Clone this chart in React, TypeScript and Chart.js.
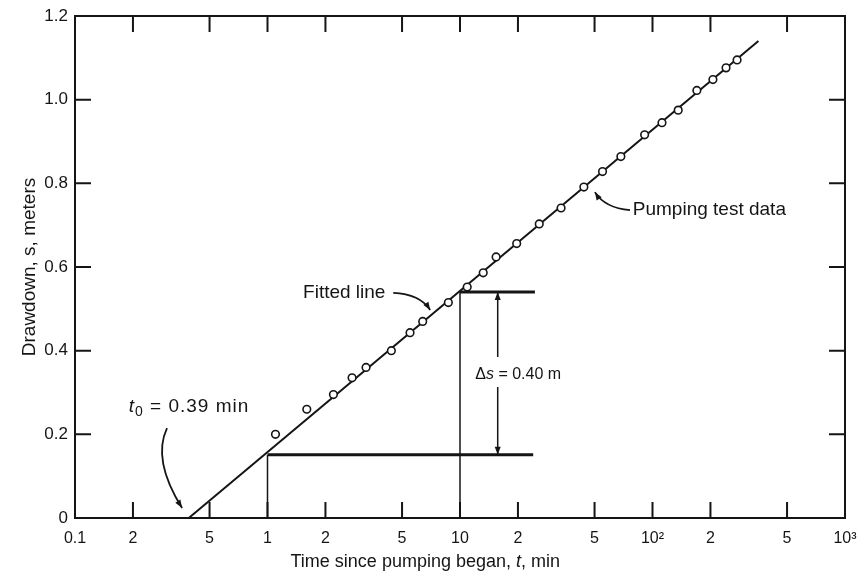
import React, { useEffect, useRef } from "react";
import { Chart, registerables } from "chart.js";

Chart.register(...registerables);

const FONT = "'Liberation Sans', 'DejaVu Sans', Arial, sans-serif";
const INK = "#151515";

// Axis ticks
const xTickValues = [0.1, 0.2, 0.5, 1, 2, 5, 10, 20, 50, 100, 200, 500, 1000];
const xTickLabels = ["0.1", "2", "5", "1", "2", "5", "10", "2", "5", "10²", "2", "5", "10³"];
const yTickValues = [0, 0.2, 0.4, 0.6, 0.8, 1.0, 1.2];
const yTickLabels = ["0", "0.2", "0.4", "0.6", "0.8", "1.0", "1.2"];
const xMarkValues = [0.2, 0.5, 1, 2, 5, 10, 20, 50, 100, 200, 500];
const yMarkValues = [0.2, 0.4, 0.6, 0.8, 1.0];

// Pumping test data (time, min ; drawdown, m)
const testTimes = [1.1, 1.6, 2.2, 2.75, 3.25, 4.4, 5.5, 6.4, 8.7, 10.9, 13.2, 15.4, 19.7, 25.8, 33.5, 44, 55, 68.5, 91, 112, 136, 170, 206, 241, 275];
const testDrawdowns = [0.2, 0.26, 0.295, 0.335, 0.36, 0.4, 0.443, 0.47, 0.515, 0.552, 0.586, 0.624, 0.656, 0.703, 0.741, 0.791, 0.828, 0.864, 0.916, 0.945, 0.975, 1.022, 1.048, 1.076, 1.095];

// Fitted straight line
const fitTimes = [0.39, 355];
const fitDrawdowns = [0, 1.14];

// Construction lines
const guide1VTimes = [1, 1];
const guide1VDrawdowns = [0, 0.151];
const guide1HTimes = [1, 24];
const guide1HDrawdowns = [0.151, 0.151];
const guide10VTimes = [10, 10];
const guide10VDrawdowns = [0, 0.54];
const guide10HTimes = [10, 24.5];
const guide10HDrawdowns = [0.54, 0.54];

// Annotation anchors (time, drawdown)
const deltaArrowTime = 15.7;
const deltaArrowUpper = [0.54, 0.385];
const deltaArrowLower = [0.313, 0.151];
const deltaLabelAt = [12.0, 0.342];
const t0LabelAt = [0.19, 0.265];
const t0Arrow = [[0.3006, 0.215], [0.251, 0.139], [0.36, 0.024]];
const fittedLabelAt = [1.53, 0.538];
const fittedArrow = [[4.5, 0.538], [6.2, 0.535], [7.0, 0.497]];
const pumpingLabelAt = [79, 0.736];
const pumpingArrow = [[76.4, 0.736], [56.6, 0.741], [50.2, 0.779]];
const xTitleCenterTime = 6.6;

const pts = (ts: number[], ss: number[]) => ts.map((t, i) => ({ x: t, y: ss[i] }));

function arrowHead(ctx: CanvasRenderingContext2D, tx: number, ty: number, ang: number, len = 8, half = 3) {
  ctx.save();
  ctx.translate(tx, ty);
  ctx.rotate(ang);
  ctx.beginPath();
  ctx.moveTo(0, 0);
  ctx.lineTo(-len, -half);
  ctx.lineTo(-len, half);
  ctx.closePath();
  ctx.fill();
  ctx.restore();
}

const inkPlugin = {
  id: "ink",
  afterDatasetsDraw(chart: any) {
    const { ctx, chartArea: a, scales } = chart;
    const xs = scales.x;
    const ys = scales.y;
    const P = (p: number[]) => [xs.getPixelForValue(p[0]), ys.getPixelForValue(p[1])];
    ctx.save();
    ctx.strokeStyle = INK;
    ctx.fillStyle = INK;
    // frame
    ctx.lineWidth = 2;
    ctx.strokeRect(a.left, a.top, a.right - a.left, a.bottom - a.top);
    // inward tick marks
    const TL = 16;
    ctx.lineWidth = 2;
    ctx.beginPath();
    for (const v of xMarkValues) {
      const px = xs.getPixelForValue(v);
      ctx.moveTo(px, a.top);
      ctx.lineTo(px, a.top + TL);
      ctx.moveTo(px, a.bottom);
      ctx.lineTo(px, a.bottom - TL);
    }
    for (const v of yMarkValues) {
      const py = ys.getPixelForValue(v);
      ctx.moveTo(a.left, py);
      ctx.lineTo(a.left + TL, py);
      ctx.moveTo(a.right, py);
      ctx.lineTo(a.right - TL, py);
    }
    ctx.stroke();

    // curved arrows
    const curve = (c: number[][]) => {
      const [p0, p1, p2] = c.map(P);
      ctx.lineWidth = 1.8;
      ctx.beginPath();
      ctx.moveTo(p0[0], p0[1]);
      ctx.quadraticCurveTo(p1[0], p1[1], p2[0], p2[1]);
      ctx.stroke();
      arrowHead(ctx, p2[0], p2[1], Math.atan2(p2[1] - p1[1], p2[0] - p1[0]));
    };
    curve(t0Arrow);
    curve(fittedArrow);
    curve(pumpingArrow);

    // delta s double arrow
    const dx = xs.getPixelForValue(deltaArrowTime);
    const u0 = ys.getPixelForValue(deltaArrowUpper[0]);
    const u1 = ys.getPixelForValue(deltaArrowUpper[1]);
    const l0 = ys.getPixelForValue(deltaArrowLower[0]);
    const l1 = ys.getPixelForValue(deltaArrowLower[1]);
    ctx.lineWidth = 1.5;
    ctx.beginPath();
    ctx.moveTo(dx, u0);
    ctx.lineTo(dx, u1);
    ctx.moveTo(dx, l0);
    ctx.lineTo(dx, l1);
    ctx.stroke();
    arrowHead(ctx, dx, u0, -Math.PI / 2);
    arrowHead(ctx, dx, l1, Math.PI / 2);

    // texts
    ctx.textBaseline = "middle";
    ctx.textAlign = "left";
    const runs = (x0: number, y: number, parts: [string, string, number][], spacing = 0) => {
      let x = x0;
      (ctx as any).letterSpacing = `${spacing}px`;
      for (const [txt, font, dy] of parts) {
        ctx.font = font;
        ctx.fillText(txt, x, y + dy);
        x += ctx.measureText(txt).width;
      }
      (ctx as any).letterSpacing = "0px";
    };
    const width = (parts: [string, string, number][]) =>
      parts.reduce((w, [txt, font]) => {
        ctx.font = font;
        return w + ctx.measureText(txt).width;
      }, 0);
    const seq = (at: number[], parts: [string, string, number][], spacing = 0) => {
      const [x, y] = P(at);
      runs(x, y, parts, spacing);
    };
    seq(fittedLabelAt, [["Fitted line", `19px ${FONT}`, 0]]);
    seq(pumpingLabelAt, [["Pumping test data", `19px ${FONT}`, 0]]);
    seq(deltaLabelAt, [["Δ", `16px ${FONT}`, 0], ["s", `italic 16px ${FONT}`, 0], [" = 0.40 m", `16px ${FONT}`, 0]]);
    seq(
      t0LabelAt,
      [["t", `italic 19px ${FONT}`, 0], ["0", `14px ${FONT}`, 5], [" = 0.39 min", `19px ${FONT}`, 0]],
      1
    );
    // x-axis title
    const xt: [string, string, number][] = [
      ["Time since pumping began, ", `18px ${FONT}`, 0],
      ["t", `italic 18px ${FONT}`, 0],
      [", min", `18px ${FONT}`, 0],
    ];
    const tw = width(xt);
    runs(xs.getPixelForValue(xTitleCenterTime) - tw / 2, a.bottom + 44, xt);
    ctx.restore();
  },
};

export default function App() {
  const ref = useRef<HTMLCanvasElement>(null);
  useEffect(() => {
    const canvas = ref.current;
    if (!canvas) return;
    const line = (ts: number[], ss: number[], w: number) => ({
      data: pts(ts, ss),
      showLine: true,
      borderColor: INK,
      borderWidth: w,
      pointRadius: 0,
      order: 2,
    });
    const chart = new Chart(canvas, {
      type: "scatter",
      data: {
        datasets: [
          {
            label: "Pumping test data",
            data: pts(testTimes, testDrawdowns),
            showLine: false,
            pointRadius: 3.8,
            pointBorderWidth: 1.6,
            pointBackgroundColor: "#ffffff",
            pointBorderColor: INK,
            order: 0,
          },
          { label: "Fitted line", ...line(fitTimes, fitDrawdowns, 2), order: 1 },
          { label: "g1v", ...line(guide1VTimes, guide1VDrawdowns, 1.5) },
          { label: "g1h", ...line(guide1HTimes, guide1HDrawdowns, 3) },
          { label: "g10v", ...line(guide10VTimes, guide10VDrawdowns, 1.5) },
          { label: "g10h", ...line(guide10HTimes, guide10HDrawdowns, 3) },
        ] as any,
      },
      options: {
        responsive: false,
        animation: false,
        layout: { padding: { left: 18, top: 16, right: 20, bottom: 9 } },
        plugins: { legend: { display: false }, tooltip: { enabled: false } },
        scales: {
          x: {
            type: "logarithmic",
            min: 0.1,
            max: 1000,
            afterBuildTicks: (s: any) => {
              s.ticks = xTickValues.map((v) => ({ value: v }));
            },
            afterFit: (s: any) => {
              s.height = 54;
            },
            grid: { display: false, drawTicks: true, tickLength: 9 },
            border: { display: false },
            ticks: {
              autoSkip: false,
              maxRotation: 0,
              padding: 2,
              color: INK,
              font: { family: FONT, size: 16 },
              callback: (_v: any, i: number) => xTickLabels[i],
            },
            title: { display: false },
          },
          y: {
            type: "linear",
            min: 0,
            max: 1.2,
            afterBuildTicks: (s: any) => {
              s.ticks = yTickValues.map((v) => ({ value: v }));
            },
            afterFit: (s: any) => {
              s.width = 57;
            },
            grid: { display: false, drawTicks: true, tickLength: 5 },
            border: { display: false },
            ticks: {
              padding: 2,
              color: INK,
              font: { family: FONT, size: 17 },
              callback: (_v: any, i: number) => yTickLabels[i],
            },
            title: {
              display: true,
              text: "Drawdown, s, meters",
              color: INK,
              font: { family: FONT, size: 19 },
              padding: { top: 0, bottom: 0 },
            },
          },
        },
      } as any,
      plugins: [inkPlugin],
    });
    return () => chart.destroy();
  }, []);
  return (
    <div style={{ position: "fixed", left: 0, top: 0, width: 865, height: 581, background: "#ffffff" }}>
      <canvas ref={ref} width={865} height={581} style={{ display: "block" }} />
    </div>
  );
}
